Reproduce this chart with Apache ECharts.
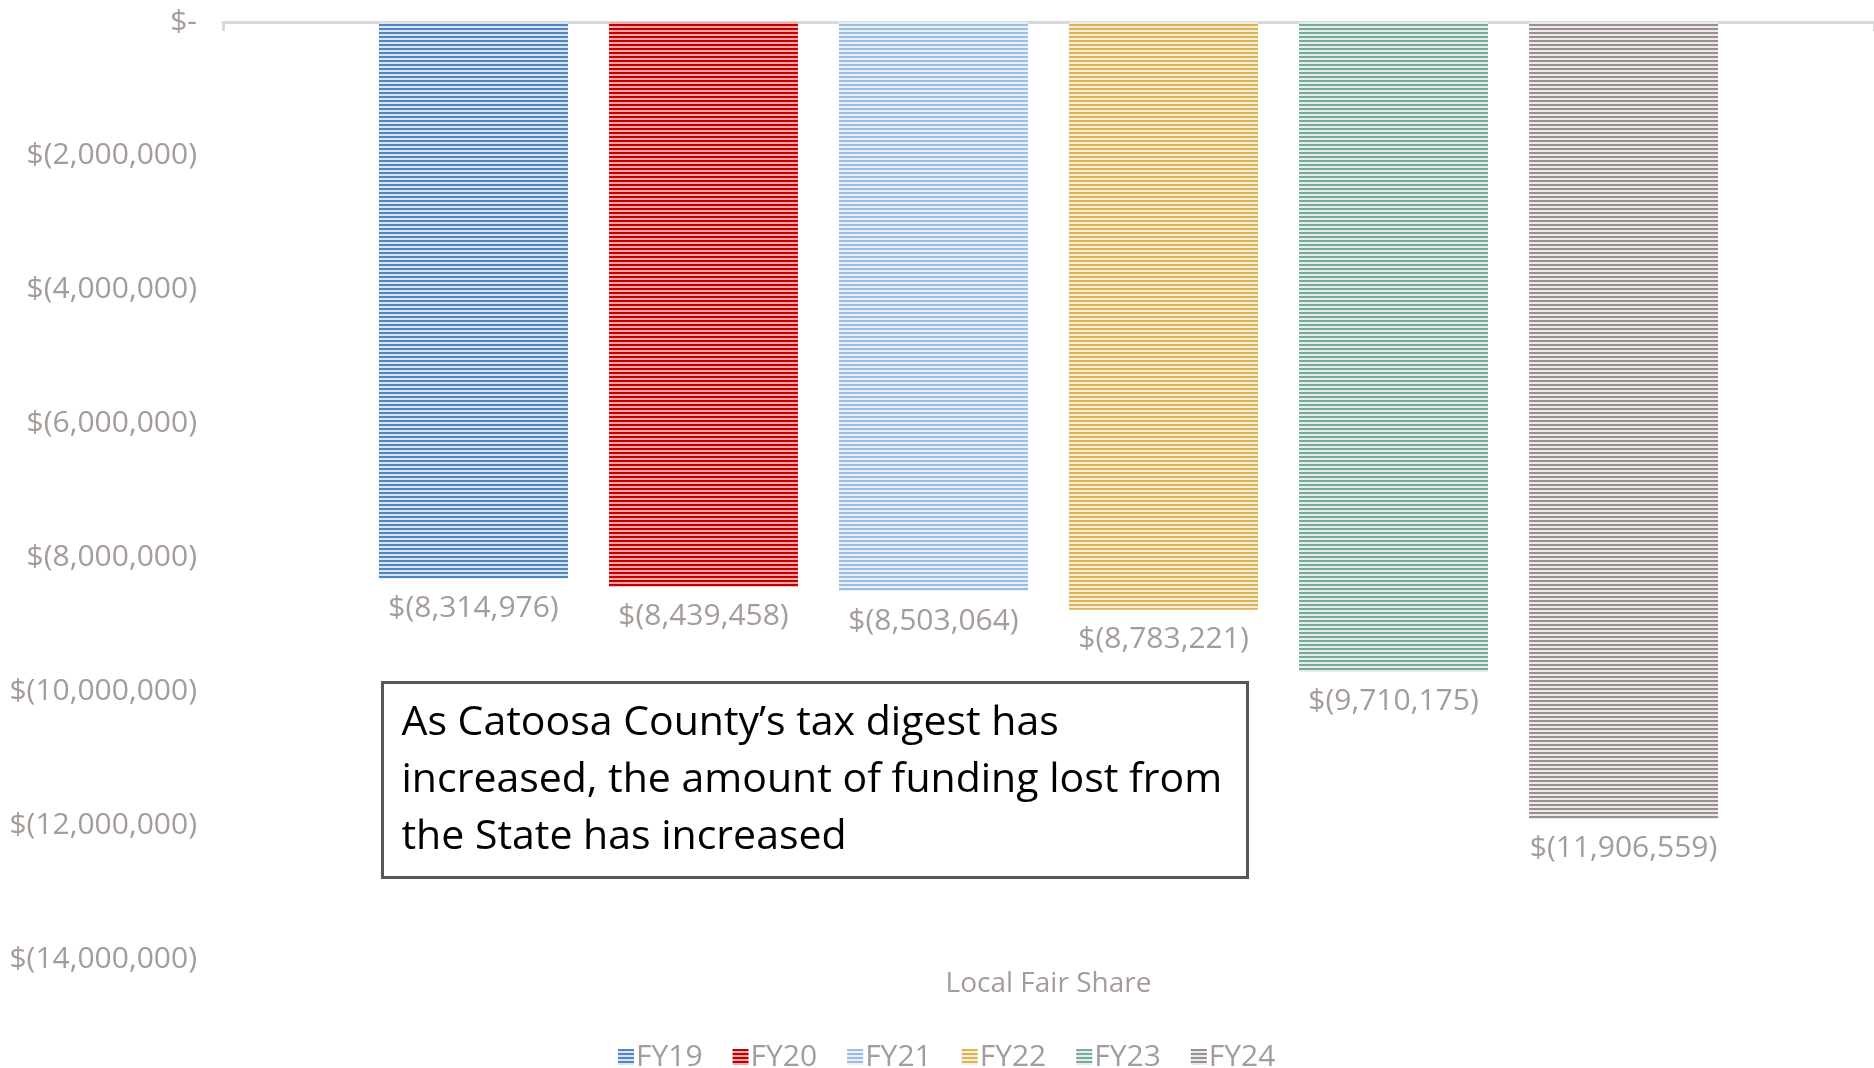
<!DOCTYPE html>
<html>
<head>
<meta charset="utf-8">
<script src="https://cdn.jsdelivr.net/npm/echarts@6/dist/echarts.min.js"></script>
<style>
html,body{margin:0;padding:0;background:#fff;}
#chart{width:1874px;height:1068px;}
</style>
</head>
<body>
<div id="chart"></div>
<script>
var categories = ['Local Fair Share'];
var seriesNames = ['FY19', 'FY20', 'FY21', 'FY22', 'FY23', 'FY24'];
var fy19 = [-8314976];
var fy20 = [-8439458];
var fy21 = [-8503064];
var fy22 = [-8783221];
var fy23 = [-9710175];
var fy24 = [-11906559];
var seriesValues = [fy19, fy20, fy21, fy22, fy23, fy24];
var yTicks = [0, -2000000, -4000000, -6000000, -8000000, -10000000, -12000000, -14000000];
var annotation = 'As Catoosa County\u2019s tax digest has\nincreased, the amount of funding lost from\nthe State has increased';

var stripeColors = [
  ['#4f86bf', '#d8e4f1'],
  ['#c00000', '#f3a7a7'],
  ['#9cbde2', '#e8eff8'],
  ['#dcb355', '#f6eedb'],
  ['#78a999', '#e4eeea'],
  ['#9a908e', '#ece9e8']
];
function stripe(c) {
  var cv = document.createElement('canvas');
  cv.width = 4; cv.height = 4;
  var ctx = cv.getContext('2d');
  ctx.fillStyle = c[1]; ctx.fillRect(0, 0, 4, 4);
  ctx.fillStyle = c[0]; ctx.fillRect(0, 0, 4, 2);
  return { image: cv, repeat: 'repeat' };
}
function money(v) {
  if (v === 0) return '$-';
  return '$(' + Math.abs(v).toLocaleString('en-US') + ')';
}
var gray = '#a49c99';
var fontFam = '"Open Sans", sans-serif';

var chart = echarts.init(document.getElementById('chart'));
var series = seriesNames.map(function (n, i) {
  return {
    name: n,
    type: 'bar',
    xAxisIndex: 0,
    data: seriesValues[i],
    barWidth: 189,
    barGap: '21.7%',
    itemStyle: { color: stripe(stripeColors[i]) },
    label: {
      show: true,
      position: 'bottom',
      distance: 15,
      color: gray,
      fontFamily: fontFam,
      fontSize: 30,
      formatter: function (p) { return money(p.value); }
    }
  };
});

chart.setOption({
  animation: false,
  grid: { left: 223, right: 0, top: 22, bottom: 109 },
  xAxis: [
    {
      type: 'category',
      data: categories,
      position: 'top',
      axisLine: { show: true, lineStyle: { color: '#d9d9d9', width: 3 } },
      axisTick: { show: true, inside: true, length: 9, lineStyle: { color: '#d9d9d9', width: 3 } },
      axisLabel: { show: false }
    },
    {
      type: 'category',
      data: categories,
      position: 'bottom',
      axisLine: { show: false, onZero: false },
      axisTick: { show: false },
      axisLabel: { show: true, margin: 11, color: gray, fontFamily: fontFam, fontSize: 28 }
    }
  ],
  yAxis: {
    type: 'value',
    min: yTicks[yTicks.length - 1],
    max: yTicks[0],
    interval: 2000000,
    axisLine: { show: false },
    axisTick: { show: false },
    splitLine: { show: false },
    axisLabel: {
      margin: 26,
      color: gray,
      fontFamily: fontFam,
      fontSize: 30,
      formatter: money
    }
  },
  legend: {
    data: seriesNames,
    icon: 'rect',
    left: 613,
    top: 1037,
    itemWidth: 16,
    itemHeight: 16,
    itemGap: 30,
    itemStyle: { borderWidth: 0 },
    textStyle: { color: gray, fontFamily: fontFam, fontSize: 30, padding: [0, 0, 0, -3] }
  },
  graphic: [
    {
      type: 'group',
      left: 381,
      top: 681,
      children: [
        {
          type: 'rect',
          shape: { x: 0, y: 0, width: 865, height: 195 },
          style: { fill: '#ffffff', stroke: '#5a5657', lineWidth: 3 }
        },
        {
          type: 'text',
          x: 19,
          y: 12,
          style: {
            text: annotation,
            fill: '#000000',
            font: '41px "Open Sans", sans-serif',
            lineHeight: 57
          }
        }
      ]
    }
  ],
  series: series
});
</script>
</body>
</html>
